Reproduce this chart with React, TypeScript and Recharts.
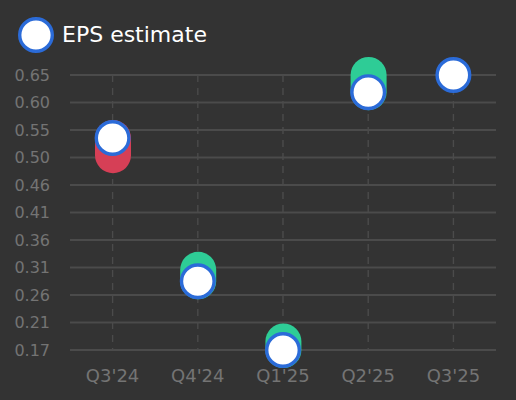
import React from 'react'
import { ComposedChart, Bar, Line, XAxis, YAxis, CartesianGrid } from 'recharts'

const quarters = ["Q3'24", "Q4'24", "Q1'25", "Q2'25", "Q3'25"]
const epsActual = [0.51, 0.31, 0.185, 0.65, null]
const epsEstimate = [0.54, 0.29, 0.17, 0.62, 0.65]
const yTicks = [0.17, 0.218, 0.266, 0.314, 0.362, 0.41, 0.458, 0.506, 0.554, 0.602, 0.65]
const yTickLabels = ['0.17', '0.21', '0.26', '0.31', '0.36', '0.41', '0.46', '0.50', '0.55', '0.60', '0.65']

const BG = '#333333'
const GRID = '#4b4b4b'
const TICK = '#747474'
const BLUE = '#2b6bd8'
const GREEN = '#2ecc96'
const RED = '#d63f56'
const FONT = '"DejaVu Sans", sans-serif'

const data = quarters.map((q, i) => {
  const a = epsActual[i]
  const e = epsEstimate[i]
  return {
    quarter: q,
    actual: a,
    estimate: e,
    range: a == null ? null : [Math.min(a, e), Math.max(a, e)],
  }
})

// pill from actual to estimate, rounded like a capsule
const Pill = (props: any) => {
  const { x, y, width, height, payload } = props
  if (payload.actual == null || x == null) return null
  const r = width / 2
  const top = Math.min(y, y + height)
  const h = Math.abs(height)
  const color = payload.actual >= payload.estimate ? GREEN : RED
  return <rect x={x} y={top - r} width={width} height={h + 2 * r} rx={r} ry={r} fill={color} />
}

export default function App() {
  return (
    <div style={{ position: 'absolute', left: 0, top: 0, width: 516, height: 400, background: BG, fontFamily: FONT }}>
      <div style={{ position: 'absolute', left: 18, top: 17, display: 'flex', alignItems: 'center' }}>
        <svg width={36} height={36}>
          <circle cx={18} cy={18} r={16.3} fill="#ffffff" stroke={BLUE} strokeWidth={3.4} />
        </svg>
        <span style={{ marginLeft: 8, color: '#ffffff', fontSize: 22, lineHeight: '36px' }}>EPS estimate</span>
      </div>
      <ComposedChart width={516} height={400} data={data} margin={{ top: 75, right: 20, bottom: 0, left: 0 }}>
        <CartesianGrid vertical={false} stroke={GRID} strokeWidth={1.8} />
        <CartesianGrid horizontal={false} syncWithTicks stroke={GRID} strokeWidth={1.4} strokeDasharray="7 6" />
        <XAxis
          dataKey="quarter"
          height={50}
          axisLine={false}
          tickLine={false}
          tickMargin={13}
          tick={{ fill: TICK, fontSize: 18, fontFamily: FONT }}
        />
        <YAxis
          width={70}
          domain={[0.17, 0.65]}
          ticks={yTicks}
          interval={0}
          tickFormatter={(v: number) => yTickLabels[yTicks.indexOf(v)] ?? String(v)}
          axisLine={false}
          tickLine={false}
          tickMargin={14}
          tick={{ fill: TICK, fontSize: 16, fontFamily: FONT }}
        />
        <Bar dataKey="range" barSize={36} shape={<Pill />} isAnimationActive={false} />
        <Line
          dataKey="estimate"
          stroke="none"
          strokeWidth={0}
          dot={{ r: 16.3, fill: '#ffffff', stroke: BLUE, strokeWidth: 3.4 }}
          activeDot={false}
          isAnimationActive={false}
        />
      </ComposedChart>
    </div>
  )
}
